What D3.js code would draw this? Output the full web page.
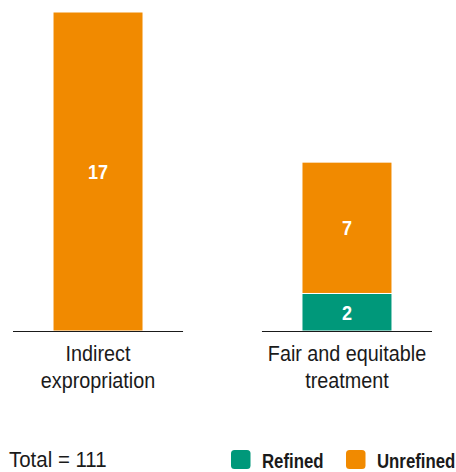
<!DOCTYPE html>
<html>
<head>
<meta charset="utf-8">
<script src="https://cdn.jsdelivr.net/npm/d3@7"></script>
<style>
  body { margin: 0; background: #fff; }
  svg text { font-family: "Liberation Sans", Arial, sans-serif; }
</style>
</head>
<body>
<div id="wrapper"></div>
<script>
// data
const categories = [["Indirect", "expropriation"], ["Fair and equitable", "treatment"]]
const refined = [0, 2]
const unrefined = [17, 7]
const seriesNames = ["Refined", "Unrefined"]
const colors = ["#00987a", "#f18a00"]
const totalLabel = "Total = 111"

// no condensed face installed, so squeeze the regular one
const place = (x, y, sx) => `translate(${x},${y}) scale(${sx},1)`

function drawChart() {
    let dimensions = {
        width: 456,
        height: 472,
        baseline: 331,
        top: 12
    }

    const svg = d3.select('#wrapper')
        .append('svg')
        .attr('width', dimensions.width)
        .attr('height', dimensions.height)

    const data = categories.map((c, i) => ({ cat: i, Refined: refined[i], Unrefined: unrefined[i] }))
    const stacked = d3.stack().keys(seriesNames)(data)

    // scales
    const xScale = d3.scaleBand()
        .domain(d3.range(categories.length))
        .range([13, 432])
        .paddingInner(0.317)
        .paddingOuter(0)
    const yScale = d3.scaleLinear()
        .domain([0, 17])
        .range([dimensions.baseline, dimensions.top])

    // bars: band is the baseline segment, bar sits in its middle
    const barW = 90
    const barX = i => xScale(i) + (xScale.bandwidth() - barW) / 2

    const layers = svg.selectAll('.layer')
        .data(stacked)
        .join('g')
        .attr('fill', (d, i) => colors[i])

    layers.selectAll('rect')
        .data(d => d.filter(s => s[1] - s[0] > 0))
        .join('rect')
        .attr('x', d => barX(d.data.cat))
        .attr('width', barW)
        .attr('y', d => yScale(d[1]))
        .attr('height', d => yScale(d[0]) - yScale(d[1]))
        .attr('stroke', '#fff')
        .attr('stroke-width', 1)

    layers.selectAll('text')
        .data(d => d.filter(s => s[1] - s[0] > 0))
        .join('text')
        .attr('transform', d => place(barX(d.data.cat) + barW / 2, (yScale(d[0]) + yScale(d[1])) / 2, 0.86))
        .attr('dy', '0.36em')
        .attr('text-anchor', 'middle')
        .attr('fill', '#fff')
        .attr('font-weight', 'bold')
        .attr('font-size', 21)
        .text(d => d[1] - d[0])

    // baselines
    svg.selectAll('.base')
        .data(d3.range(categories.length))
        .join('line')
        .attr('x1', i => xScale(i))
        .attr('x2', i => xScale(i) + xScale.bandwidth())
        .attr('y1', dimensions.baseline + 0.5)
        .attr('y2', dimensions.baseline + 0.5)
        .attr('stroke', '#1a1a1a')
        .attr('stroke-width', 1.2)

    // category labels
    const labels = svg.selectAll('.cat')
        .data(categories)
        .join('text')
        .attr('text-anchor', 'middle')
        .attr('font-size', 22)
        .attr('fill', '#1a1a1a')
        .attr('transform', (d, i) => place(xScale(i) + xScale.bandwidth() / 2, 0, 0.9))
    labels.selectAll('tspan')
        .data(d => d)
        .join('tspan')
        .attr('x', 0)
        .attr('y', (d, j) => 361.5 + j * 26.5)
        .text(d => d)

    // footer
    svg.append('text')
        .attr('transform', place(9, 467, 0.93))
        .attr('font-size', 22)
        .attr('fill', '#1a1a1a')
        .text(totalLabel)

    const legendX = [231, 346]
    const legend = svg.selectAll('.legend')
        .data(seriesNames)
        .join('g')
        .attr('transform', (d, i) => `translate(${legendX[i]}, 450)`)
    legend.append('rect')
        .attr('width', 19.5)
        .attr('height', 19)
        .attr('rx', 3.5)
        .attr('fill', (d, i) => colors[i])
    legend.append('text')
        .attr('transform', place(31, 17.5, 0.84))
        .attr('font-size', 20)
        .attr('font-weight', 'bold')
        .attr('fill', '#1a1a1a')
        .text(d => d)
}

drawChart()
</script>
</body>
</html>
